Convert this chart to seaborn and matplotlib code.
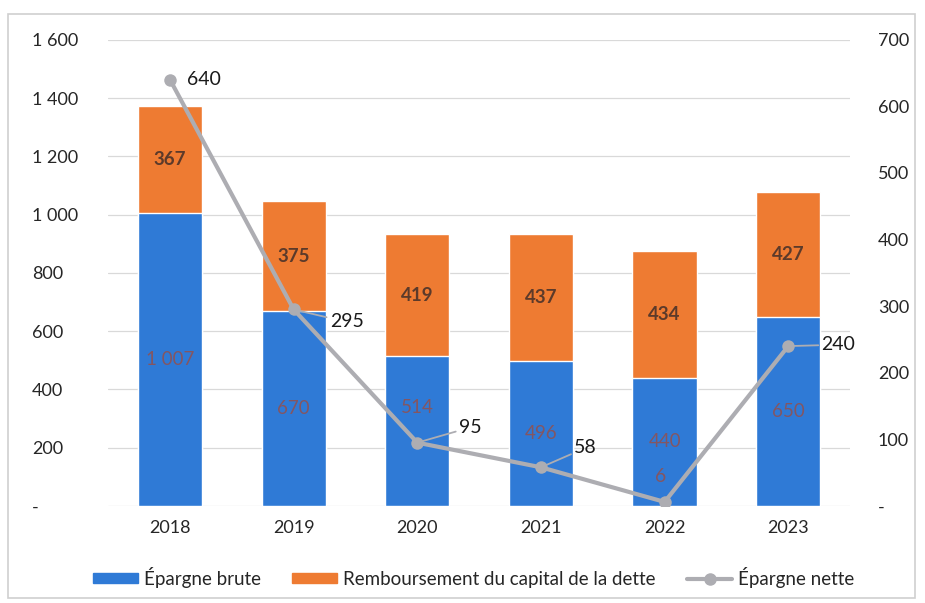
import numpy as np
import pandas as pd
import matplotlib.pyplot as plt
import seaborn as sns
from matplotlib.patches import Patch, Rectangle
from matplotlib.lines import Line2D

# Données
annees = ["2018", "2019", "2020", "2021", "2022", "2023"]
epargne_brute = [1007, 670, 514, 496, 440, 650]
remboursement = [367, 375, 419, 437, 434, 427]
epargne_nette = [640, 295, 95, 58, 6, 240]

gauche_ticks = [0, 200, 400, 600, 800, 1000, 1200, 1400, 1600]
droite_ticks = [0, 100, 200, 300, 400, 500, 600, 700]

BLEU = "#2f7ad6"
ORANGE = "#ee7b32"
GRIS = "#adadb2"

sns.set_theme(style="white")
plt.rcParams["font.family"] = ["Lato", "DejaVu Sans"]

df = pd.DataFrame({"annee": annees, "brute": epargne_brute, "remb": remboursement,
                   "nette": epargne_nette})
df["total"] = df["brute"] + df["remb"]

fig = plt.figure(figsize=(9.25, 6.03), dpi=100)
ax = fig.add_axes([0.117, 0.161, 0.802, 0.773])

# Barres empilées : total en orange, puis épargne brute en bleu par-dessus
sns.barplot(data=df, x="annee", y="total", color=ORANGE, saturation=1, width=0.52, ax=ax, zorder=2)
sns.barplot(data=df, x="annee", y="brute", color=BLEU, saturation=1, width=0.52, ax=ax, zorder=3)

ax.set_ylim(0, 1600)
ax.set_xlim(-0.5, 5.5)
ax.set_yticks(gauche_ticks)
ax.set_yticklabels(["-" if v == 0 else f"{v:,}".replace(",", " ") for v in gauche_ticks])
ax.yaxis.grid(True, color="#d9d9d9", linewidth=0.9, zorder=0)
ax.set_axisbelow(True)
for s in ax.spines.values():
    s.set_visible(False)
ax.set_xlabel("")
ax.set_ylabel("")
ax.tick_params(axis="both", length=0, labelsize=13, colors="#262626", pad=10)
ax.tick_params(axis="y", pad=55)
for lab in ax.get_yticklabels():
    lab.set_horizontalalignment("left")

# Étiquettes des barres (514 légèrement remonté comme dans l'original)
decal_brute = [0, 0, 17, 0, 0, 0]
for i in range(len(annees)):
    b = epargne_brute[i]
    r = remboursement[i]
    ax.annotate(f"{b:,}".replace(",", " "), xy=(i, b / 2), xytext=(0, decal_brute[i]),
                textcoords="offset points", ha="center", va="center",
                fontsize=13.5, color="#a04a3c", alpha=0.75, zorder=5)
    ax.text(i, b + r / 2, str(r), ha="center", va="center", fontsize=13.5,
            color="#5c3a2a", fontweight="bold", zorder=5)

# Épargne nette sur l'axe de droite
ax2 = ax.twinx()
x_pos = np.arange(len(annees))
sns.lineplot(x=x_pos, y=epargne_nette, ax=ax2, color=GRIS, linewidth=3,
             marker="o", markersize=9, markeredgewidth=0, zorder=6)
ax2.set_ylim(0, 700)
ax2.set_yticks(droite_ticks)
ax2.set_yticklabels(["-" if v == 0 else str(v) for v in droite_ticks])
ax2.tick_params(axis="y", length=0, labelsize=13, colors="#262626", pad=20)
for s in ax2.spines.values():
    s.set_visible(False)
ax2.grid(False)
ax2.set_xlim(-0.5, 5.5)

decalages = [(12, 0), (26, -9), (30, 11), (24, 14), (-3, 18), (24, 1)]
avec_trait = [False, True, True, True, False, True]
for i, v in enumerate(epargne_nette):
    dx, dy = decalages[i]
    trait = dict(arrowstyle="-", color=GRIS, lw=1.3, shrinkA=0, shrinkB=1) if avec_trait[i] else None
    ax2.annotate(str(v), xy=(i, v), xytext=(dx, dy), textcoords="offset points",
                 ha="center" if i == 4 else "left", va="center", fontsize=14,
                 color="#a04a3c" if i == 4 else "#1a1a1a", alpha=0.75 if i == 4 else 1,
                 arrowprops=trait, zorder=7)

# Légende
handles = [Patch(color=BLEU, label="Épargne brute"),
           Patch(color=ORANGE, label="Remboursement du capital de la dette"),
           Line2D([0], [0], color=GRIS, lw=3, marker="o", markersize=8, label="Épargne nette")]
fig.legend(handles=handles, loc="center", bbox_to_anchor=(0.512, 0.043), ncol=3, frameon=False,
           fontsize=13.5, handlelength=2.4, handleheight=0.5, columnspacing=1.7, handletextpad=0.3)

# Cadre autour du graphique
fig.patches.append(Rectangle((0.009, 0.008), 0.98, 0.968, transform=fig.transFigure,
                             fill=False, edgecolor="#cfcfcf", linewidth=1.2))

fig.savefig("out.png", dpi=100)
